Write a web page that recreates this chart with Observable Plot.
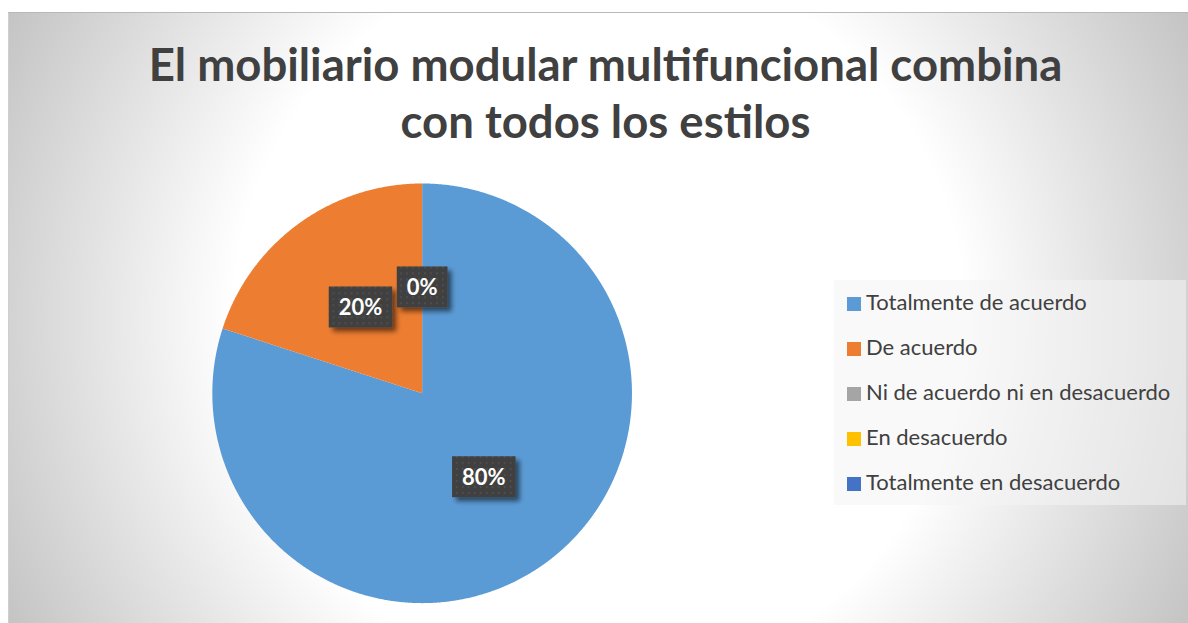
<!DOCTYPE html>
<html>
<head>
<meta charset="utf-8">
<script src="https://cdn.jsdelivr.net/npm/d3@7"></script>
<script src="https://cdn.jsdelivr.net/npm/@observablehq/plot@0.6"></script>
<style>
  html, body { margin: 0; padding: 0; background: #ffffff; }
  #chart {
    position: absolute; left: 8px; top: 12px; width: 1180px; height: 611px;
    box-sizing: border-box;
    border-top: 1px solid #b8b8b8; border-left: 1px solid #cfcfcf;
    background: radial-gradient(circle farthest-corner at 50% 50%, #ffffff 0%, #ffffff 55%, #c4c4c4 100%);
    overflow: hidden;
    font-family: Lato, "Open Sans", sans-serif;
  }
  #title {
    height: 157px; box-sizing: border-box; padding-top: 22px;
    text-align: center; color: #404040; font-weight: 700; font-size: 45.5px; line-height: 57px;
    padding-left: 14px;
  }
  #legend {
    position: absolute; left: 825px; top: 267px; width: 352px; height: 225px;
    background: rgba(244,244,244,0.55);
  }
  .item { position: absolute; left: 13px; height: 45px; line-height: 45px; font-size: 22px; color: #404040; white-space: nowrap; }
  .sw { display: inline-block; width: 14px; height: 14px; margin-right: 5px; vertical-align: -1px; }
</style>
</head>
<body>
<div id="chart">
  <div id="title">El mobiliario modular multifuncional combina<br>con todos los estilos</div>
  <div id="plot"></div>
  <div id="legend"></div>
</div>
<script>
// ---- data ----
const categorias = ["Totalmente de acuerdo", "De acuerdo", "Ni de acuerdo ni en desacuerdo", "En desacuerdo", "Totalmente en desacuerdo"];
const valores = [80, 20, 0, 0, 0];
const colores = ["#5B9BD5", "#ED7D31", "#A5A5A5", "#FFC000", "#4472C4"];
const etiquetas = ["80%", "20%", "0%", "0%", "0%"];

// ---- slices from d3.pie (unit circle, 12 o'clock, clockwise) ----
const pie = d3.pie().sort(null).value((d, i) => valores[i]);
const arcs = pie(categorias);
const puntos = [];
arcs.forEach((a, i) => {
  if (a.endAngle - a.startAngle <= 0) return;
  const n = Math.max(2, Math.ceil((a.endAngle - a.startAngle) / 0.005));
  puntos.push({cat: categorias[i], x: 0, y: 0});
  for (let k = 0; k <= n; k++) {
    const t = a.startAngle + (a.endAngle - a.startAngle) * k / n;
    puntos.push({cat: categorias[i], x: Math.sin(t), y: Math.cos(t)});
  }
});
// labels at half radius on mid angle; drop duplicates at the same spot
const vistos = new Set();
const labels = [];
arcs.forEach((a, i) => {
  const m = (a.startAngle + a.endAngle) / 2;
  const key = m.toFixed(4);
  if (vistos.has(key)) return;
  vistos.add(key);
  labels.push({x: 0.5 * Math.sin(m), y: 0.5 * Math.cos(m), text: etiquetas[i]});
});

const cx = 413, cy = 223, R = 210;
const chart = Plot.plot({
  width: 1180, height: 454, margin: 0,
  x: {domain: [-1, 1], range: [cx - R, cx + R], axis: null},
  y: {domain: [-1, 1], range: [cy + R, cy - R], axis: null},
  color: {domain: categorias, range: colores},
  style: {background: "transparent", overflow: "visible"},
  marks: [
    Plot.line(puntos, {x: "x", y: "y", z: "cat", fill: "cat", stroke: "none"}),
    Plot.text(labels, {x: "x", y: "y", text: "text", fill: "white", fontSize: 22, fontWeight: "bold", fontFamily: "Lato, sans-serif"})
  ]
});
document.getElementById("plot").appendChild(chart);

// label boxes (dark, dotted, with drop shadow)
const ns = "http://www.w3.org/2000/svg";
const defs = document.createElementNS(ns, "defs");
defs.innerHTML = `
  <pattern id="dots" width="6" height="6" patternUnits="userSpaceOnUse">
    <rect width="6" height="6" fill="#404040"/>
    <rect x="2" y="2" width="1.6" height="1.6" fill="#555555"/>
  </pattern>
  <filter id="sh" x="-30%" y="-30%" width="160%" height="160%">
    <feDropShadow dx="4" dy="4" stdDeviation="2.5" flood-color="#000" flood-opacity="0.55"/>
  </filter>`;
chart.insertBefore(defs, chart.firstChild);
chart.querySelectorAll('g[aria-label="text"] text').forEach(t => {
  const b = t.getBBox();
  const r = document.createElementNS(ns, "rect");
  const w = b.width + 20, h = 41;
  r.setAttribute("x", b.x + b.width / 2 - w / 2);
  r.setAttribute("y", b.y + b.height / 2 - h / 2);
  r.setAttribute("width", w);
  r.setAttribute("height", h);
  const tr = t.getAttribute("transform");
  if (tr) r.setAttribute("transform", tr);
  r.setAttribute("fill", "url(#dots)");
  r.setAttribute("filter", "url(#sh)");
  t.parentNode.insertBefore(r, t);
});

// legend
const leg = document.getElementById("legend");
categorias.forEach((c, i) => {
  const d = document.createElement("div");
  d.className = "item";
  d.style.top = (i * 45.2 - 1.5) + "px";
  d.innerHTML = `<span class="sw" style="background:${colores[i]}"></span>${c}`;
  leg.appendChild(d);
});
</script>
</body>
</html>
